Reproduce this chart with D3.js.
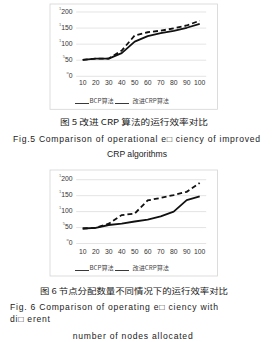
<!DOCTYPE html>
<head>
    <meta charset="utf-8">
    <title>CRP efficiency</title>
    <script src="https://cdn.jsdelivr.net/npm/d3@7"></script>
</head>
<style>
    body { margin: 0; background: white; }
    .grid line { stroke: #d9d9d9; stroke-width: 0.7; }
    .frame { fill: none; stroke: #d4d4d4; stroke-width: 0.8; }
    .tick text { font-family: "Liberation Sans", Arial, sans-serif; font-size: 6.8px; fill: #333; }
</style>
<body>
<svg id="chart" width="280" height="342"></svg>
</body>
<script>
    // data
    var categories = [10, 20, 30, 40, 50, 60, 70, 80, 90, 100]
    var yTicks = [0, 50, 100, 150, 200]
    var yTickMarks = ["o", "5", "1", "1", "1"]   // small scan garbage in front of labels
    var seriesNames = ["BCP算法", "改进CRP算法"]

    var fig5Bcp      = [51, 55, 55, 72, 108, 125, 134, 141, 151, 163]
    var fig5Improved = [51, 55, 55, 80, 127, 137, 142, 149, 158, 173]
    var fig6Bcp      = [47, 49, 58, 62, 69, 75, 85, 100, 136, 148]
    var fig6Improved = [47, 49, 62, 89, 94, 135, 143, 152, 162, 190]

    var svg = d3.select("#chart")
    var x = d3.scaleBand().domain(categories).range([76.2, 206.2])
    var cx = d => x(d) + x.bandwidth() / 2

    function drawChart(cfg) {
        var g = svg.append("g")
        var y = d3.scaleLinear().domain([0, 200]).range([cfg.y0, cfg.y1])

        g.append("rect").attr("class", "frame")
            .attr("x", 50).attr("y", cfg.top).attr("width", 167.5).attr("height", cfg.bottom - cfg.top)

        g.append("g").attr("class", "grid")
            .selectAll("line").data(yTicks).enter().append("line")
            .attr("x1", 76.2).attr("x2", 206.2)
            .attr("y1", d => y(d)).attr("y2", d => y(d))

        var ylab = g.append("g").attr("class", "tick")
            .selectAll("text").data(yTicks).enter().append("text")
            .attr("x", 72.5).attr("y", d => y(d)).attr("dy", "0.35em")
            .attr("text-anchor", "end")
        ylab.append("tspan").text((d, i) => yTickMarks[i])
            .style("font-size", "4px").attr("dy", "-0.6em").style("fill", "#666")
        ylab.append("tspan").text(d => d).attr("dy", "0.6em")

        g.append("g").attr("class", "tick")
            .selectAll("text").data(categories).enter().append("text")
            .attr("x", d => cx(d)).attr("y", cfg.xLab).attr("dy", "0.35em")
            .attr("text-anchor", "middle").text(d => d)

        var line = d3.line().x((d, i) => cx(categories[i])).y(d => y(d))
        g.append("path").datum(cfg.solid).attr("d", line)
            .attr("fill", "none").attr("stroke", "#111").attr("stroke-width", 1.8)
            .attr("stroke-linejoin", "round")
        g.append("path").datum(cfg.dashed).attr("d", line)
            .attr("fill", "none").attr("stroke", "#111").attr("stroke-width", 1.8)
            .attr("stroke-dasharray", "5,3")

        // legend (both drawn as plain underlines in the scan)
        var lx = [75, 115]
        var tx = [89.5, 132.5]
        seriesNames.forEach(function(n, i) {
            g.append("line").attr("x1", lx[i]).attr("x2", lx[i] + 14)
                .attr("y1", cfg.leg).attr("y2", cfg.leg)
                .attr("stroke", "#222").attr("stroke-width", 0.9)
            g.append("text").attr("x", tx[i]).attr("y", cfg.leg - 0.5)
                .style("font", "6.2px 'Noto Sans CJK SC', sans-serif").attr("fill", "#444")
                .text(n)
        })

        cfg.captions.forEach(function(c) {
            var t = g.append("text").attr("x", c.x).attr("y", c.y)
                .attr("text-anchor", c.anchor || "start")
                .style("font-family", c.cjk ? "'Noto Sans CJK SC', sans-serif" : "'Liberation Sans', Arial, sans-serif")
                .style("font-size", c.size + "px").attr("fill", "#222")
                .text(c.text)
            if (c.len) t.attr("textLength", c.len).attr("lengthAdjust", c.cjk ? "spacingAndGlyphs" : "spacing")
        })
    }

    drawChart({
        top: 4, bottom: 109.3, y0: 76.3, y1: 12, xLab: 83, leg: 103.5,
        solid: fig5Bcp, dashed: fig5Improved,
        captions: [
            {text: "图 5 改进 CRP 算法的运行效率对比", x: 60, y: 125, size: 8.2, cjk: true, len: 148},
            {text: "Fig.5  Comparison of operational e□ ciency of improved", x: 13, y: 141.5, size: 8.6, len: 247},
            {text: "CRP  algorithms", x: 137, y: 157, size: 8.6, anchor: "middle"}
        ]
    })

    drawChart({
        top: 170, bottom: 276, y0: 243.5, y1: 179.7, xLab: 251.7, leg: 270.5,
        solid: fig6Bcp, dashed: fig6Improved,
        captions: [
            {text: "图 6 节点分配数量不同情况下的运行效率对比", x: 40, y: 293.5, size: 8.2, cjk: true, len: 188},
            {text: "Fig. 6  Comparison of operating e□ ciency with", x: 10, y: 309.5, size: 8.6, len: 208},
            {text: "di□ erent", x: 10, y: 322, size: 8.6, len: 40},
            {text: "number of nodes allocated", x: 72.7, y: 339, size: 8.6, len: 120}
        ]
    })
</script>
</html>
